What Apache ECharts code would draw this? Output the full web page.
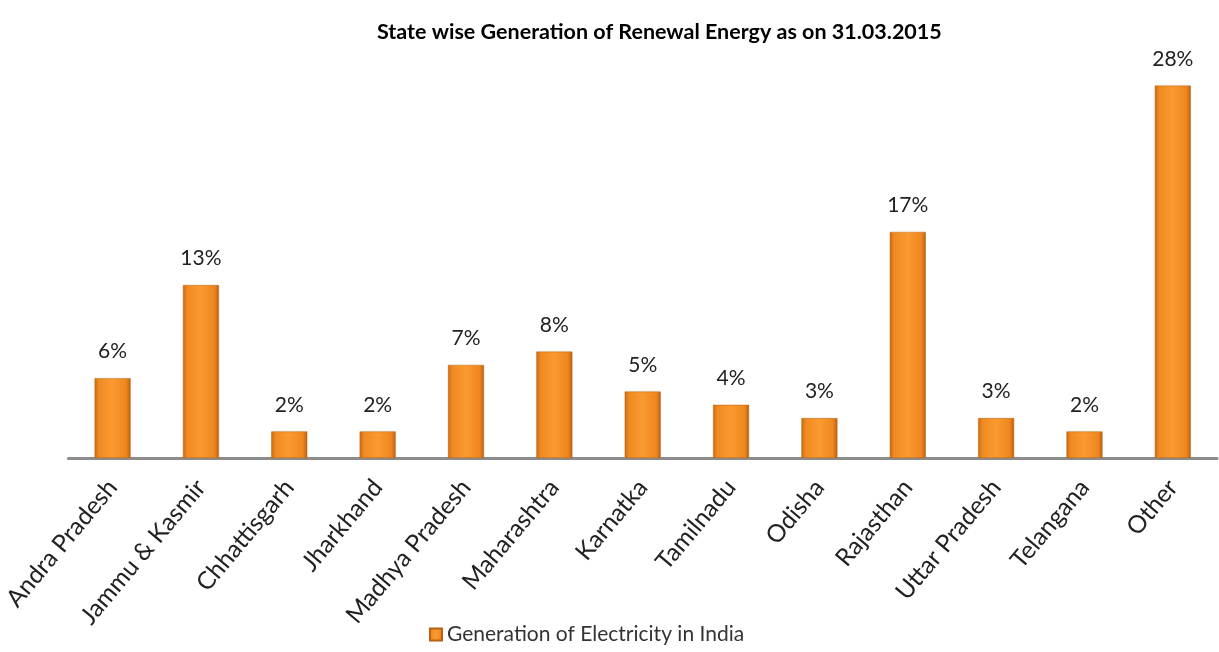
<!DOCTYPE html>
<html>
<head>
<meta charset="utf-8">
<script src="https://cdn.jsdelivr.net/npm/echarts@6/dist/echarts.min.js"></script>
<style>
html,body{margin:0;padding:0;background:#fff;}
#main{width:1219px;height:652px;}
</style>
</head>
<body>
<div id="main"></div>
<script>
var states = ['Andra Pradesh', 'Jammu & Kasmir', 'Chhattisgarh', 'Jharkhand', 'Madhya Pradesh',
    'Maharashtra', 'Karnatka', 'Tamilnadu', 'Odisha', 'Rajasthan', 'Uttar Pradesh', 'Telangana', 'Other'];
var shares = [6, 13, 2, 2, 7, 8, 5, 4, 3, 17, 3, 2, 28];
var seriesName = 'Generation of Electricity in India';

var myChart = echarts.init(document.getElementById('main'));

// 柱子渐变
var barColor = new echarts.graphic.LinearGradient(0, 0, 1, 0, [
    {offset: 0, color: '#c96a12'},
    {offset: 0.12, color: '#f08a22'},
    {offset: 0.5, color: '#fb9a30'},
    {offset: 0.88, color: '#ee861f'},
    {offset: 1, color: '#b9600f'}
]);

var option = {
    animation: false,
    textStyle: {fontFamily: 'Lato'},
    title: {
        text: 'State wise Generation of Renewal Energy as on 31.03.2015',
        left: 372,
        top: 16,
        textStyle: {fontFamily: 'Lato', fontSize: 21.5, fontWeight: 'bold', color: '#000'}
    },
    legend: {
        bottom: 2,
        left: 424,
        itemWidth: 12,
        itemHeight: 12,
        icon: 'rect',
        textStyle: {fontFamily: 'Lato', fontSize: 21, color: '#333'},
        data: [seriesName]
    },
    grid: {left: 66, right: 2, top: 59, bottom: 194},
    xAxis: {
        type: 'category',
        data: states,
        axisTick: {show: false},
        axisLine: {lineStyle: {color: '#8c8c8c', width: 3}},
        axisLabel: {
            rotate: 50,
            interval: 0,
            fontFamily: 'Lato',
            fontSize: 24.5,
            color: '#222',
            margin: 25
        }
    },
    yAxis: {
        type: 'value',
        min: 0,
        max: 30,
        show: false,
        splitLine: {show: false}
    },
    series: [{
        name: seriesName,
        type: 'bar',
        data: shares,
        barWidth: 36,
        itemStyle: {
            color: barColor,
            borderColor: '#b86210',
            borderWidth: 0.5
        },
        label: {
            show: true,
            position: 'top',
            distance: 16,
            formatter: '{c}%',
            fontFamily: 'Lato',
            fontSize: 21,
            color: '#222'
        }
    }]
};

myChart.setOption(option);
</script>
</body>
</html>
